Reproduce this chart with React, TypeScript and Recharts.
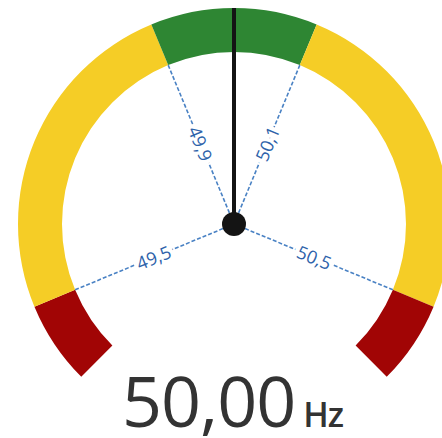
import { PieChart, Pie, Cell } from 'recharts'

// gauge bands, Hz limits and relative arc length of each band
const bandEdges = [49.0, 49.5, 49.9, 50.1, 50.5, 51.0]
const bandSpans = [1, 4, 2, 4, 1]
const bandColors = ['#a10505', '#f5cd26', '#2e8633', '#f5cd26', '#a10505']
const frequency = 50.0
const unit = 'Hz'

const W = 442
const H = 438
const CX = 234
const CY = 224
const R_IN = 172
const R_OUT = 216
const FONT = '"Open Sans", "Noto Sans", sans-serif'

const fmt = (v: number, d: number) => v.toFixed(d).replace('.', ',')

const bands = bandSpans.map((span, i) => ({
  name: `band${i}`,
  span,
  tick: i > 0 ? fmt(bandEdges[i], 1) : '',
}))

// where the needle sits, in the same units as bandSpans
function needlePos(v: number) {
  let pos = 0
  for (let i = 0; i < bandSpans.length; i++) {
    const lo = bandEdges[i]
    const hi = bandEdges[i + 1]
    if (v >= hi) {
      pos += bandSpans[i]
      continue
    }
    pos += (bandSpans[i] * Math.max(0, v - lo)) / (hi - lo)
    break
  }
  return pos
}

const totalSpan = bandSpans.reduce((a, b) => a + b, 0)
const pos = needlePos(frequency)
const needleData = [
  { name: 'value', span: pos, needle: true },
  { name: 'rest', span: totalSpan - pos, needle: false },
]

const RAD = Math.PI / 180
const polar = (cx: number, cy: number, r: number, a: number) => ({
  x: cx + r * Math.cos(-a * RAD),
  y: cy + r * Math.sin(-a * RAD),
})

function TickShape(props: any) {
  const { cx, cy, outerRadius, startAngle } = props
  const label = props.payload?.tick ?? props.tick
  if (!label) return <g />
  const end = polar(cx, cy, outerRadius, startAngle)
  const mid = polar(cx, cy, 87, startAngle)
  let rot = -startAngle
  while (rot > 90) rot -= 180
  while (rot <= -90) rot += 180
  return (
    <g>
      <line
        x1={cx}
        y1={cy}
        x2={end.x}
        y2={end.y}
        stroke="#4a82c4"
        strokeWidth={1.6}
        strokeDasharray="4 2"
      />
      <text
        x={mid.x}
        y={mid.y}
        transform={`rotate(${rot} ${mid.x} ${mid.y})`}
        textAnchor="middle"
        dominantBaseline="central"
        fontFamily={FONT}
        fontSize={18}
        fontWeight={500}
        fill="#2d62aa"
        stroke="#fff"
        strokeWidth={8}
        paintOrder="stroke"
      >
        {label}
      </text>
    </g>
  )
}

function NeedleShape(props: any) {
  const { cx, cy, outerRadius, endAngle } = props
  const isNeedle = props.payload?.needle ?? props.needle
  if (!isNeedle) return <g />
  const tip = polar(cx, cy, outerRadius, endAngle)
  return (
    <g>
      <line x1={cx} y1={cy} x2={tip.x} y2={tip.y} stroke="#141414" strokeWidth={4} />
      <circle cx={cx} cy={cy} r={12} fill="#141414" />
    </g>
  )
}

export default function App() {
  return (
    <div style={{ position: 'absolute', left: 0, top: 0, width: W, height: H, background: '#fff' }}>
      <PieChart width={W} height={H} margin={{ top: 0, right: 0, bottom: 0, left: 0 }}>
        <Pie
          data={bands}
          dataKey="span"
          cx={CX}
          cy={CY}
          innerRadius={R_IN}
          outerRadius={R_OUT}
          startAngle={225}
          endAngle={-45}
          stroke="none"
          isAnimationActive={false}
        >
          {bands.map((b, i) => (
            <Cell key={b.name} fill={bandColors[i]} />
          ))}
        </Pie>
        <Pie
          data={bands}
          dataKey="span"
          cx={CX}
          cy={CY}
          innerRadius={0}
          outerRadius={R_IN}
          startAngle={225}
          endAngle={-45}
          stroke="none"
          fill="none"
          shape={TickShape}
          inactiveShape={TickShape}
          activeShape={TickShape}
          isAnimationActive={false}
        />
        <Pie
          data={needleData}
          dataKey="span"
          cx={CX}
          cy={CY}
          innerRadius={0}
          outerRadius={R_OUT}
          startAngle={225}
          endAngle={-45}
          stroke="none"
          fill="none"
          shape={NeedleShape}
          inactiveShape={NeedleShape}
          activeShape={NeedleShape}
          isAnimationActive={false}
        />
      </PieChart>
      <svg
        width={W}
        height={H}
        style={{ position: 'absolute', left: 0, top: 0, pointerEvents: 'none' }}
      >
        <text x={122} y={427} fontFamily={FONT} fontSize={70} fill="#333" letterSpacing={-1}>
          {fmt(frequency, 2)}
          <tspan fontSize={34} dx={8} fontWeight={600}>
            {unit}
          </tspan>
        </text>
      </svg>
    </div>
  )
}
